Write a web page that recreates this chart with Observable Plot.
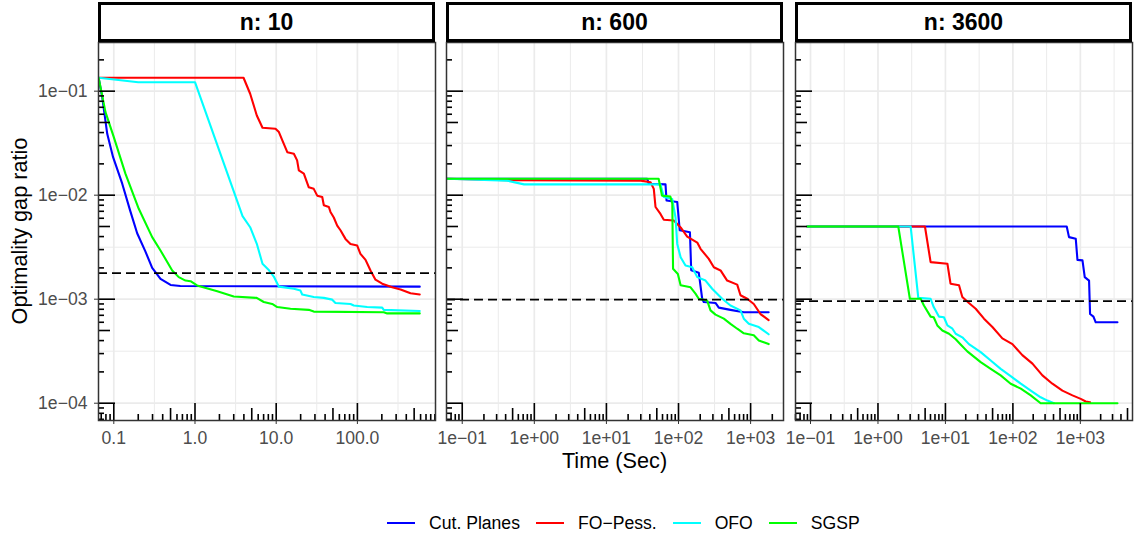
<!DOCTYPE html>
<html><head><meta charset="utf-8">
<script src="https://cdn.jsdelivr.net/npm/d3@7"></script>
<script src="https://cdn.jsdelivr.net/npm/@observablehq/plot@0.6"></script>
<style>
body{margin:0;background:#fff;font-family:"Liberation Sans",Arial,Helvetica,sans-serif;}
#root{position:relative;width:1136px;height:535px;overflow:hidden;background:#fff;}
.strip{position:absolute;top:2px;height:40px;box-sizing:border-box;border:3px solid #000;background:#fff;font-weight:bold;font-size:23px;display:flex;align-items:center;justify-content:center;color:#000;z-index:2;}
.panel{position:absolute;top:0;}
.ytitle{position:absolute;left:20px;top:231px;transform:translate(-50%,-50%) rotate(-90deg);white-space:nowrap;font-size:21.7px;line-height:1;color:#000;}
.xtitle{position:absolute;left:614.5px;top:450px;transform:translateX(-50%);white-space:nowrap;font-size:21.7px;line-height:1;color:#000;}
#legend{position:absolute;left:387px;top:511px;height:24px;display:flex;align-items:center;font-size:17.6px;color:#000;white-space:nowrap;}
#legend .sw{display:inline-block;width:28px;height:0;border-top:2px solid;}
#legend .lab{margin-left:14px;margin-right:16px;}
</style></head><body><div id="root"></div>
<script>
// ---------- data ----------
const methods = ["Cut. Planes", "FO\u2212Pess.", "OFO", "SGSP"];
const colors = ["#0000FF", "#FF0000", "#00FFFF", "#00FF00"];
const panelTitles = ["n: 10", "n: 600", "n: 3600"];
const thresholds = [0.00178, 0.00099, 0.00096];

const yTicks = [0.1, 0.01, 0.001, 0.0001];
const yTickLabels = ["1e\u221201", "1e\u221202", "1e\u221203", "1e\u221204"];
const yDomain = [6.82e-5, 0.2937];

const xTicks10 = [0.1, 1, 10, 100, 1000];
const xTickLabels10 = ["0.1", "1.0", "10.0", "100.0", "1000.0"];
const xTicksSci = [0.1, 1, 10, 100, 1000, 10000];
const xTickLabelsSci = ["1e\u221201", "1e+00", "1e+01", "1e+02", "1e+03", "1e+04"];
const xDomains = [[0.0648, 916], [0.0605, 2860], [0.0599, 5930]];

// n = 10  ([time, gap])
const cut10 = [[0.065,0.1346],[0.072,0.0876],[0.083,0.0389],[0.098,0.0232],[0.127,0.0129],[0.159,0.0071],[0.194,0.0043],[0.244,0.0029],[0.297,0.0020],[0.376,0.00157],[0.50,0.00137],[0.66,0.00134],[586,0.00132]];
const fo10 = [[0.065,0.1346],[3.96,0.1346],[4.78,0.0944],[5.77,0.0584],[6.78,0.0445],[9.8,0.0435],[10.8,0.0404],[11.9,0.0336],[13.7,0.0259],[16.5,0.025],[18.1,0.0216],[19.0,0.0173],[21.9,0.0161],[25.2,0.0119],[29.0,0.0115],[32.0,0.0099],[36.9,0.0096],[38.6,0.0080],[44.5,0.0077],[46.6,0.0069],[51.2,0.0061],[56.4,0.0051],[61.9,0.0046],[71.3,0.0038],[82.2,0.0034],[99.5,0.00328],[109,0.00273],[126,0.00239],[145,0.00189],[167,0.00154],[202,0.00141],[268,0.0013],[340,0.00124],[451,0.00114],[586,0.00111]];
const ofo10 = [[0.065,0.1346],[0.20,0.122],[1.0,0.122],[3.85,0.00628],[4.78,0.00492],[5.77,0.00341],[6.78,0.00219],[8.04,0.00192],[9.34,0.00165],[10.8,0.00132],[16.5,0.00126],[19.9,0.00121],[20.9,0.00111],[29.0,0.00105],[38.6,0.00103],[49,0.00099],[53.7,0.00092],[82.2,0.0009],[90.3,0.00087],[132,0.00084],[202,0.00083],[211,0.00079],[586,0.00077]];
const sgsp10 = [[0.065,0.1346],[0.079,0.0628],[0.1,0.0361],[0.139,0.0161],[0.203,0.0074],[0.297,0.00395],[0.376,0.00294],[0.524,0.00189],[0.631,0.00163],[0.764,0.00151],[0.881,0.00149],[1.06,0.001355],[1.88,0.00119],[3.0,0.00106],[5.75,0.00103],[7.03,0.00094],[8.93,0.0009],[10.3,0.00084],[15,0.00081],[25.2,0.00079],[29,0.00076],[211,0.00075],[233,0.00073],[586,0.00073]];

// n = 600
const cut600 = [[0.0605,0.0144],[36.8,0.0144],[38.7,0.0129],[66,0.0127],[68.2,0.0089],[96,0.0086],[104,0.0046],[144,0.0044],[150,0.0019],[191,0.0018],[213,0.00101],[224,0.00094],[326,0.00092],[362,0.00083],[526,0.00079],[805,0.00075],[1780,0.00075]];
const fo600 = [[0.0605,0.0144],[0.42,0.0139],[30,0.0138],[40.9,0.0133],[45.4,0.0115],[48,0.0077],[56.2,0.0066],[62.5,0.0058],[86.1,0.0057],[107,0.0049],[132,0.0040],[182,0.0035],[202,0.00305],[263,0.00244],[309,0.00203],[383,0.00189],[473,0.00151],[652,0.00138],[724,0.00109],[898,0.00101],[1107,0.0009],[1371,0.00072],[1780,0.00063]];
const ofo600 = [[0.0605,0.0144],[0.42,0.0138],[0.72,0.0127],[56.2,0.0127],[62.5,0.0096],[81.8,0.0092],[90.9,0.0061],[96,0.0034],[107,0.00253],[125,0.00211],[155,0.00203],[182,0.00163],[237,0.00151],[293,0.00126],[404,0.00101],[526,0.00087],[724,0.00078],[805,0.00065],[944,0.00058],[1300,0.00054],[1780,0.00046]];
const sgsp600 = [[0.0605,0.0144],[53,0.0144],[59,0.0099],[77,0.0097],[82,0.0083],[84,0.00196],[98,0.00175],[107,0.00136],[147,0.0013],[172,0.00113],[191,0.00101],[250,0.00097],[278,0.00078],[326,0.00071],[425,0.00065],[526,0.00058],[652,0.00052],[805,0.00047],[1107,0.00045],[1300,0.0004],[1780,0.00037]];

// n = 3600
const cut3600 = [[0.09,0.005],[628,0.005],[679,0.00395],[855,0.00381],[906,0.00239],[1075,0.00236],[1162,0.00163],[1346,0.00151],[1393,0.00072],[1564,0.00068],[1690,0.0006],[3550,0.0006]];
const fo3600 = [[0.09,0.005],[4.97,0.005],[6.03,0.00227],[10.7,0.00219],[11.9,0.00141],[15.9,0.00136],[17.8,0.00105],[22.3,0.00092],[28.1,0.00081],[37.3,0.00065],[49.7,0.00054],[69.8,0.00042],[98.4,0.00037],[138,0.00029],[195,0.00024],[274,0.000185],[385,0.000154],[542,0.000132],[764,0.000119],[1014,0.00011],[1202,0.000104],[1393,0.000102]];
const ofo3600 = [[0.09,0.005],[3.05,0.005],[3.96,0.00103],[6.03,0.00101],[6.7,0.00084],[8.0,0.00068],[9.5,0.00067],[10.7,0.00056],[12.7,0.00052],[14.2,0.000465],[17.8,0.00043],[22.3,0.00037],[33.3,0.00031],[46.9,0.000257],[65.9,0.000214],[92.7,0.000182],[131,0.000154],[184,0.000132],[258,0.000114],[325,0.000106],[407,0.0001]];
const sgsp3600 = [[0.09,0.005],[2.0,0.005],[2.97,0.00101],[4.29,0.00101],[4.8,0.00087],[6.03,0.00068],[6.7,0.00067],[7.58,0.00056],[9.0,0.0005],[11.3,0.000465],[14.2,0.000412],[16.8,0.000367],[21.1,0.000315],[33.3,0.000248],[46.9,0.000214],[65.9,0.000185],[92.7,0.000154],[131,0.000138],[184,0.000119],[258,0.0001],[3550,0.0001]];

// ---------- layout ----------
const H = 480, MT = 42, MB = 60;
const FONT = '"Liberation Sans", Arial, Helvetica, sans-serif';
const panels = [
  {left: 0,   width: 440, ml: 98, mr: 5, series: [cut10, fo10, ofo10, sgsp10], xTicks: xTicks10, xLabels: xTickLabels10, showY: true},
  {left: 440, width: 348, ml: 6,  mr: 5, series: [cut600, fo600, ofo600, sgsp600], xTicks: xTicksSci, xLabels: xTickLabelsSci, showY: false},
  {left: 788, width: 348, ml: 7,  mr: 4, series: [cut3600, fo3600, ofo3600, sgsp3600], xTicks: xTicksSci, xLabels: xTickLabelsSci, showY: false}
];

function logTicks(dom) {
  const out = [];
  for (let k = Math.floor(Math.log10(dom[0])); k <= Math.ceil(Math.log10(dom[1])); k++)
    for (let m = 1; m <= 9; m++) {
      const v = +(m * Math.pow(10, k)).toPrecision(6);
      if (v >= dom[0] && v <= dom[1]) out.push({v, m});
    }
  return out;
}
function minorGrid(ticks, dom) {
  const out = [];
  const sorted = ticks.slice().sort((a, b) => a - b);
  const ext = [sorted[0] / 10, ...sorted, sorted[sorted.length - 1] * 10];
  for (let i = 0; i < ext.length - 1; i++) {
    const g = Math.sqrt(ext[i] * ext[i + 1]);
    if (g >= dom[0] && g <= dom[1]) out.push(g);
  }
  return out;
}

const root = document.getElementById("root");

panels.forEach((p, pi) => {
  const xDomain = xDomains[pi];
  const innerW = p.width - p.ml - p.mr, innerH = H - MT - MB;
  const rows = [];
  p.series.forEach((s, k) => s.forEach(([t, v]) => rows.push({method: methods[k], t, v})));
  const inX = d => d >= xDomain[0] && d <= xDomain[1];
  const inY = d => d >= yDomain[0] && d <= yDomain[1];
  const xT = p.xTicks.filter(inX);
  const xLabelMap = new Map(p.xTicks.map((t, i) => [t, p.xLabels[i]]));
  const yLabelMap = new Map(yTicks.map((t, i) => [t, yTickLabels[i]]));
  const yLog = logTicks(yDomain), xLog = logTicks(xDomain);
  const len = m => m === 1 ? 17 : m === 5 ? 12 : 6;

  const marks = [
    Plot.ruleY(minorGrid(yTicks, yDomain), {stroke: "#EBEBEB", strokeWidth: 1}),
    Plot.ruleX(minorGrid(xT, xDomain), {stroke: "#EBEBEB", strokeWidth: 1}),
    Plot.ruleY(yTicks.filter(inY), {stroke: "#EBEBEB", strokeWidth: 1.7}),
    Plot.ruleX(xT, {stroke: "#EBEBEB", strokeWidth: 1.7}),
    Plot.line(rows, {x: "t", y: "v", z: "method", stroke: "method", strokeWidth: 2.1, clip: true}),
    Plot.ruleY([thresholds[pi]], {stroke: "#000", strokeWidth: 1.8, strokeDasharray: "9,5"}),
    ...[1, 5, 2].map(m => Plot.tickY(yLog.filter(d => (m === 2 ? d.m !== 1 && d.m !== 5 : d.m === m)),
      {y: "v", insetRight: innerW - len(m), stroke: "#000", strokeWidth: 1.6})),
    ...[1, 5, 2].map(m => Plot.tickX(xLog.filter(d => (m === 2 ? d.m !== 1 && d.m !== 5 : d.m === m)),
      {x: "v", insetTop: innerH - len(m), stroke: "#000", strokeWidth: 1.6})),
    Plot.frame({stroke: "#333", strokeWidth: 1.5}),
    Plot.axisX(xT, {tickFormat: d => xLabelMap.get(d), tickSize: 4, tickPadding: 7, fontSize: 17.6,
      stroke: "#333", fill: "#4D4D4D", label: null})
  ];
  if (p.showY) {
    marks.push(Plot.axisY(yTicks, {tickFormat: d => yLabelMap.get(d), tickSize: 4, tickPadding: 7, fontSize: 17.6,
      stroke: "#333", fill: "#4D4D4D", label: null}));
  }

  const chart = Plot.plot({
    width: p.width, height: H,
    marginLeft: p.ml, marginRight: p.mr, marginTop: MT, marginBottom: MB,
    x: {type: "log", domain: xDomain},
    y: {type: "log", domain: yDomain, ...(p.showY ? {} : {axis: null})},
    color: {domain: methods, range: colors},
    style: {fontFamily: FONT, background: "transparent", overflow: "visible"},
    marks
  });
  const wrap = document.createElement("div");
  wrap.className = "panel";
  wrap.style.left = p.left + "px";
  wrap.appendChild(chart);
  root.appendChild(wrap);

  const strip = document.createElement("div");
  strip.className = "strip";
  strip.style.left = (p.left + p.ml) + "px";
  strip.style.width = innerW + "px";
  strip.textContent = panelTitles[pi];
  root.appendChild(strip);
});

const yt = document.createElement("div");
yt.className = "ytitle"; yt.textContent = "Optimality gap ratio";
root.appendChild(yt);
const xt = document.createElement("div");
xt.className = "xtitle"; xt.textContent = "Time (Sec)";
root.appendChild(xt);

const legend = document.createElement("div");
legend.id = "legend";
methods.forEach((m, i) => {
  const sw = document.createElement("span");
  sw.className = "sw"; sw.style.borderTopColor = colors[i];
  const lab = document.createElement("span");
  lab.className = "lab"; lab.textContent = m;
  legend.appendChild(sw); legend.appendChild(lab);
});
root.appendChild(legend);
</script></body></html>
